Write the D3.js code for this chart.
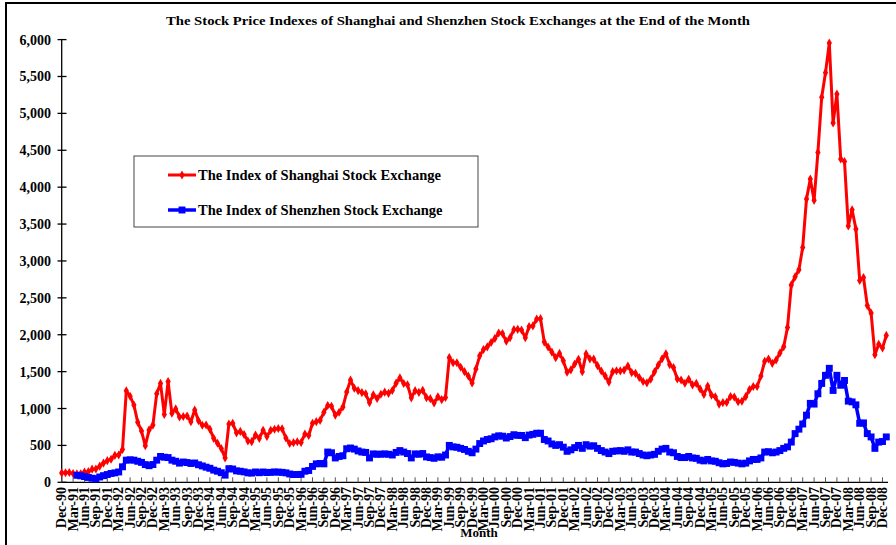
<!DOCTYPE html>
<html>
<head>
<meta charset="utf-8">
<style>
  body { margin: 0; background: #fff; }
  text { font-family: "Liberation Serif", "Times New Roman", serif; font-weight: bold; fill: #000; }
</style>
</head>
<body>
<svg id="chart" width="896" height="545"></svg>
<script src="https://cdn.jsdelivr.net/npm/d3@7"></script>
<script>
// month-end index values, Dec-90 .. Jan-09
var shanghai = [
  127.6,
  130, 133, 120, 114, 115, 138, 144, 178, 181, 219, 260, 293,
  313, 365, 370, 445, 1240, 1167, 1048, 815, 695, 495, 710, 775,
  1200, 1340, 920, 1365, 935, 995, 885, 891, 898, 820, 980, 835,
  774, 777, 720, 596, 530, 458, 330, 790, 800, 670, 690, 648,
  560, 551, 640, 596, 705, 620, 705, 719, 730, 725, 600, 525,
  537, 549, 540, 655, 634, 800, 822, 840, 950, 1040, 1030, 910,
  950, 1020, 1223, 1385, 1275, 1243, 1216, 1200, 1080, 1186, 1135, 1194,
  1222, 1206, 1245, 1344, 1415, 1339, 1322, 1145, 1242, 1218, 1247, 1147,
  1134, 1075, 1158, 1120, 1150, 1690, 1620, 1620, 1560, 1500, 1440, 1345,
  1535, 1714, 1800, 1836, 1894, 1950, 2023, 2016, 1911, 1961, 2071, 2073,
  2065, 1960, 2112, 2120, 2214, 2218, 1900, 1834, 1764, 1689, 1747, 1646,
  1491, 1524, 1604, 1667, 1500, 1740, 1673, 1670, 1581, 1508, 1443, 1358,
  1500, 1511, 1510, 1521, 1576, 1487, 1477, 1421, 1367, 1348, 1397, 1497,
  1590, 1675, 1742, 1595, 1555, 1400, 1386, 1342, 1396, 1320, 1340, 1266,
  1191, 1306, 1181, 1159, 1060, 1080, 1083, 1162, 1155, 1092, 1099, 1161,
  1258, 1299, 1298, 1440, 1641, 1672, 1612, 1658, 1752, 1837, 2099, 2675,
  2786, 2881, 3183, 3841, 4109, 3821, 4471, 5218, 5552, 5954, 4871, 5262,
  4383, 4348, 3473, 3693, 3433, 2736, 2775, 2397, 2293, 1729, 1871, 1821,
  1991
];

var shenzhen = [
  null,
  null, null, null, 95, 88, 78, 66, 55, 47, 72, 90, 105,
  120, 128, 140, 210, 300, 305, 300, 285, 270, 240, 225, 241,
  300, 350, 340, 335, 300, 285, 260, 275, 268, 255, 262, 238,
  222, 205, 190, 165, 150, 130, 97, 185, 180, 155, 150, 141,
  128, 125, 140, 130, 140, 132, 135, 140, 138, 135, 128, 113,
  105, 105, 108, 150, 160, 215, 250, 255, 250, 410, 400, 330,
  350, 360, 455, 465, 450, 425, 410, 405, 330, 385, 380, 381,
  385, 380, 370, 405, 430, 410, 390, 330, 385, 380, 390, 344,
  335, 325, 345, 340, 370, 500, 480, 475, 460, 445, 420, 400,
  450, 525, 560, 580, 590, 615, 630, 625, 600, 620, 645, 636,
  635, 605, 640, 650, 665, 665, 580, 560, 520, 500, 510, 476,
  420, 440, 470, 500, 460, 510, 490, 495, 460, 430, 410, 389,
  420, 425, 430, 420, 440, 410, 410, 390, 370, 360, 370, 379,
  420, 450, 460, 410, 400, 350, 335, 335, 350, 330, 325, 300,
  290, 310, 290, 285, 265, 250, 255, 275, 270, 260, 250, 260,
  290, 310, 310, 330, 410, 415, 400, 410, 430, 460, 480, 545,
  660, 720, 790, 910, 1070, 1060, 1200, 1340, 1450, 1545, 1245, 1450,
  1315, 1380, 1100, 1090, 1050, 800, 805, 660, 615, 460, 545, 553,
  615
];

var startMonth = new Date(1990, 11, 1);
var months = d3.range(shanghai.length).map(function(i) {
  return d3.timeFormat("%b-%y")(d3.timeMonth.offset(startMonth, i));
});

var seriesNames = ["The Index of Shanghai Stock Exchange", "The Index of Shenzhen Stock Exchange"];
var yTicks = [0, 500, 1000, 1500, 2000, 2500, 3000, 3500, 4000, 4500, 5000, 5500, 6000];

var svg = d3.select("#chart");

// outer frame
svg.append("rect").attr("x", 6).attr("y", 3).attr("width", 900).attr("height", 560)
  .attr("fill", "none").attr("stroke", "#000").attr("stroke-width", 2);

var x = d3.scaleLinear().domain([0, shanghai.length - 1]).range([61.7, 886.3]);
var y = d3.scaleLinear().domain([0, 6000]).range([482.3, 39.6]);

svg.append("text")
  .attr("x", 458).attr("y", 25)
  .attr("text-anchor", "middle")
  .attr("font-size", 13.5)
  .attr("textLength", 584).attr("lengthAdjust", "spacingAndGlyphs")
  .text("The Stock Price Indexes of Shanghai and Shenzhen Stock Exchanges at the End of the Month");

// y axis
var yAxis = svg.append("g");
yAxis.append("line").attr("x1", x(0)).attr("x2", x(0)).attr("y1", y(6000)).attr("y2", y(0))
  .attr("stroke", "#000").attr("stroke-width", 1.3);
yAxis.selectAll(".yt").data(yTicks).enter().append("line")
  .attr("x1", 57.5).attr("x2", 66.5)
  .attr("y1", function(d) { return y(d); }).attr("y2", function(d) { return y(d); })
  .attr("stroke", "#000").attr("stroke-width", 1.3);
yAxis.selectAll(".yl").data(yTicks).enter().append("text")
  .attr("x", 51).attr("y", function(d) { return y(d) + 5; })
  .attr("text-anchor", "end").attr("font-size", 14)
  .text(function(d) { return d3.format(",")(d); });

// x axis
var tickIdx = d3.range(0, shanghai.length, 3);
svg.append("line").attr("x1", x(0)).attr("x2", 888).attr("y1", y(0)).attr("y2", y(0))
  .attr("stroke", "#000").attr("stroke-width", 1.3);
svg.selectAll(".xt").data(tickIdx).enter().append("line")
  .attr("x1", function(d) { return x(d); }).attr("x2", function(d) { return x(d); })
  .attr("y1", y(0) - 5).attr("y2", y(0))
  .attr("stroke", "#555").attr("stroke-width", 1);
svg.selectAll(".xl").data(tickIdx).enter().append("text")
  .attr("transform", function(d) { return "translate(" + (x(d) + 4.5) + "," + 487 + ") rotate(-90)"; })
  .attr("text-anchor", "end").attr("font-size", 14)
  .text(function(d) { return months[d]; });

svg.append("text").attr("x", 479).attr("y", 537).attr("text-anchor", "middle")
  .attr("font-size", 13).text("Month");

// series
var line = d3.line()
  .defined(function(d) { return d != null; })
  .x(function(d, i) { return x(i); })
  .y(function(d) { return y(d); });

function drawSeries(values, color, width, symbol, size) {
  svg.append("path").datum(values).attr("d", line)
    .attr("fill", "none").attr("stroke", color).attr("stroke-width", width)
    .attr("stroke-linejoin", "round");
  var pts = values.map(function(v, i) { return { i: i, v: v }; }).filter(function(d) { return d.v != null; });
  svg.append("g").selectAll("path").data(pts).enter().append("path")
    .attr("d", d3.symbol().type(symbol).size(size))
    .attr("transform", function(d) { return "translate(" + x(d.i) + "," + y(d.v) + ")"; })
    .attr("fill", color);
}

drawSeries(shanghai, "#ff0000", 3, d3.symbolDiamond, 24);
drawSeries(shenzhen, "#0000ff", 3.5, d3.symbolSquare, 48);

// legend
var lg = svg.append("g");
lg.append("rect").attr("x", 134).attr("y", 156).attr("width", 344).attr("height", 71)
  .attr("fill", "#fff").attr("stroke", "#444").attr("stroke-width", 1);
var legendRows = [
  { name: seriesNames[0], color: "#ff0000", symbol: d3.symbolDiamond, size: 24, w: 3, y: 175 },
  { name: seriesNames[1], color: "#0000ff", symbol: d3.symbolSquare, size: 48, w: 3.5, y: 210 }
];
legendRows.forEach(function(r) {
  lg.append("line").attr("x1", 168).attr("x2", 196).attr("y1", r.y).attr("y2", r.y)
    .attr("stroke", r.color).attr("stroke-width", r.w);
  lg.append("path").attr("d", d3.symbol().type(r.symbol).size(r.size))
    .attr("transform", "translate(182," + r.y + ")").attr("fill", r.color);
  lg.append("text").attr("x", 198).attr("y", r.y + 5).attr("font-size", 14.5).text(r.name);
});
</script>
</body>
</html>
